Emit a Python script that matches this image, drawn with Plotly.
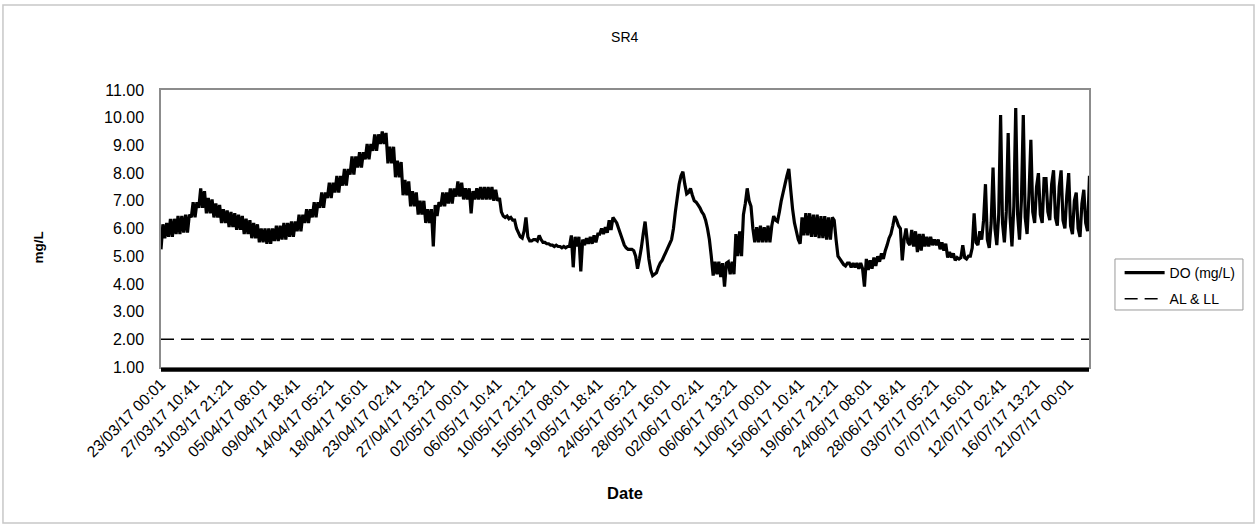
import plotly.graph_objects as go
import pandas as pd

# DO readings (mg/L), one value every 6 hours starting 23/03/17 00:01
# (4 readings per day)
do_mar = [5.25, 6.15, 5.65, 6.2,  5.7, 6.35, 5.7, 6.35,  5.8, 6.45, 5.8, 6.45,
          5.85, 6.5, 5.85, 6.5,  6.4, 6.95, 6.4, 6.95,  6.75, 7.45, 6.75, 7.35,
          6.55, 7.1, 6.55, 7.05,  6.4, 6.9, 6.4, 6.85,  6.2, 6.7, 6.2, 6.65]
do_apr = [6.05, 6.6, 6.05, 6.55,  5.95, 6.5, 5.95, 6.45,  5.8, 6.35, 5.8, 6.3,
          5.65, 6.2, 5.65, 6.15,  5.5, 6.0, 5.5, 6.0,  5.45, 6.0, 5.45, 6.0,
          5.55, 6.1, 5.55, 6.1,  5.6, 6.2, 5.6, 6.2,  5.7, 6.25, 5.7, 6.25,
          5.9, 6.5, 5.9, 6.5,  6.2, 6.7, 6.2, 6.7,  6.4, 6.95, 6.4, 6.95,
          6.75, 7.3, 6.75, 7.3,  7.1, 7.65, 7.1, 7.65,  7.3, 7.9, 7.3, 7.9,
          7.55, 8.15, 7.55, 8.15,  7.95, 8.6, 7.95, 8.6,  8.2, 8.75, 8.2, 8.75,
          8.5, 9.05, 8.5, 9.05,  8.8, 9.4, 8.8, 9.4,  9.05, 9.5, 9.05, 9.45,
          8.35, 8.95, 8.35, 8.95,  7.85, 8.45, 7.85, 8.4,  7.2, 7.75, 7.2, 7.7,
          6.8, 7.35, 6.8, 7.3,  6.5, 7.0, 6.5, 7.0,  6.2, 6.7, 6.2, 6.7,
          5.35, 6.85, 6.45, 6.95,  6.8, 7.3, 6.8, 7.3,  6.9, 7.45, 6.9, 7.45]
do_may = [7.15, 7.7, 7.15, 7.65,  7.05, 7.45, 7.05, 7.45,  6.55, 7.35, 7.05, 7.45,
          7.05, 7.5, 7.05, 7.5,  7.05, 7.5, 7.05, 7.5,  7.0, 7.4, 7.0, 7.1,
          6.6, 6.45, 6.4, 6.45,  6.35, 6.4, 6.3, 6.3,  6.0, 5.85, 5.7, 5.65,
          5.9, 6.4, 5.7, 5.55,  5.55, 5.6, 5.6, 5.55,  5.75, 5.6, 5.5, 5.5,
          5.45, 5.45, 5.4, 5.4,  5.35, 5.4, 5.35, 5.35,  5.3, 5.35, 5.3, 5.35,
          5.35, 5.75, 4.6, 5.7,  5.35, 5.7, 4.45, 5.6,  5.4, 5.65, 5.45, 5.7,
          5.45, 5.75, 5.5, 5.8,  5.8, 6.0, 5.8, 6.05,  5.85, 6.3, 5.95, 6.4,
          6.3, 6.2, 6.0, 5.8,  5.6, 5.4, 5.3, 5.25,  5.25, 5.25, 5.2, 5.0,
          4.55, 4.9, 5.3, 5.8,  6.25, 5.6, 4.9, 4.5,  4.3, 4.35, 4.4, 4.6,
          4.75, 4.85, 5.0, 5.15,  5.3, 5.45, 5.6, 6.0,  6.6, 7.1, 7.6, 7.9,
          8.05, 7.6, 7.25, 7.3]
do_jun = [7.45, 7.2, 7.0, 6.95,  6.85, 6.75, 6.6, 6.5,  6.3, 6.0, 5.6, 5.0,
          4.3, 4.8, 4.35, 4.8,  4.25, 4.75, 3.9, 4.75,  4.8, 4.35, 4.8, 4.35,
          5.8, 5.0, 5.9, 5.0,  6.5, 6.9, 7.45, 7.0,  6.8, 6.0, 5.5, 6.05,
          5.5, 6.1, 5.5, 6.05,  5.5, 6.1, 5.5, 6.1,  6.45, 6.3, 6.25, 6.6,
          7.0, 7.3, 7.6, 7.9,  8.15, 7.4, 6.7, 6.2,  5.9, 5.6, 5.45, 6.4,
          5.75, 6.55, 5.75, 6.55,  5.7, 6.5, 5.7, 6.5,  5.65, 6.45, 5.65, 6.45,
          5.6, 6.4, 5.6, 6.4,  6.3, 5.6, 5.0, 4.9,  4.8, 4.7, 4.65, 4.75,
          4.75, 4.6, 4.75, 4.6,  4.75, 4.55, 4.75, 4.55,  3.9, 4.9, 4.5, 4.85,
          4.55, 4.95, 4.65, 5.0,  4.8, 5.1, 4.9, 5.2,  5.4, 5.65, 5.8, 6.1,
          6.45, 6.3, 6.1, 6.0,  4.85, 5.6, 6.0, 5.5,  5.4, 5.95, 5.35, 5.9]
do_jul = [5.15, 5.8, 5.2, 5.8,  5.35, 5.7, 5.35, 5.7,  5.4, 5.6, 5.4, 5.6,
          5.25, 5.5, 5.2, 5.45,  4.95, 5.15, 4.95, 5.1,  4.85, 4.95, 4.9, 4.95,
          5.4, 4.95, 4.9, 5.0,  5.0, 5.3, 6.55, 5.5,  5.4, 5.9, 5.6, 6.3,
          7.6, 5.6, 5.3, 6.2,  8.2, 6.0, 5.4, 6.5,  10.1, 6.2, 5.5, 6.6,
          9.45, 6.4, 5.35, 6.8,  10.35, 6.5, 5.6, 7.0,  10.1, 6.4, 5.8, 7.2,
          9.2, 6.6, 6.2, 7.5,  8.0, 6.5, 6.2, 7.8,  7.8, 6.6, 6.3, 7.6,
          8.1, 6.4, 6.1, 7.5,  8.1, 6.3, 6.0, 7.2,  8.0, 6.1, 5.8, 7.0,
          7.3, 6.0, 5.7, 6.9,  7.4, 6.2, 5.9, 7.9]

al_ll = 2.0

tick_labels = ["23/03/17 00:01", "27/03/17 10:41", "31/03/17 21:21", "05/04/17 08:01",
               "09/04/17 18:41", "14/04/17 05:21", "18/04/17 16:01", "23/04/17 02:41",
               "27/04/17 13:21", "02/05/17 00:01", "06/05/17 10:41", "10/05/17 21:21",
               "15/05/17 08:01", "19/05/17 18:41", "24/05/17 05:21", "28/05/17 16:01",
               "02/06/17 02:41", "06/06/17 13:21", "11/06/17 00:01", "15/06/17 10:41",
               "19/06/17 21:21", "24/06/17 08:01", "28/06/17 18:41", "03/07/17 05:21",
               "07/07/17 16:01", "12/07/17 02:41", "16/07/17 13:21", "21/07/17 00:01"]

do_values = do_mar + do_apr + do_may + do_jun + do_jul
times = pd.date_range("2017-03-23 00:01", periods=len(do_values), freq="6h")
tick_vals = pd.to_datetime(tick_labels, format="%d/%m/%y %H:%M")
x_start = pd.Timestamp("2017-03-23 00:01")
x_end = pd.Timestamp("2017-07-23 16:30")

font = "Liberation Sans, Arial, sans-serif"

fig = go.Figure()
fig.add_trace(go.Scatter(
    x=times, y=do_values, mode="lines", name="DO (mg/L)",
    line=dict(color="black", width=3.2, simplify=False),
    legendgroup="do"
))
fig.add_trace(go.Scatter(
    x=[x_start, x_end], y=[al_ll, al_ll], mode="lines", name="AL & LL",
    line=dict(color="black", width=1.5, dash="13px,7px"),
    legendgroup="al"
))

# thick black band under the category axis
fig.add_shape(type="line", xref="x domain", yref="y domain",
              x0=0, x1=1, y0=-0.0097, y1=-0.0097,
              line=dict(color="black", width=4))
# outer chart frame
fig.add_shape(type="rect", xref="paper", yref="paper",
              x0=-0.1703, x1=1.1778, y0=-0.5632, y1=1.3069,
              line=dict(color="#c8c8c8", width=1.5))
# legend frame
fig.add_shape(type="rect", xref="paper", yref="paper",
              x0=1.0280, x1=1.1659, y0=0.2058, y1=0.3899,
              line=dict(color="#9a9a9a", width=1))

# y axis title, placed like the original (slightly below the plot centre)
fig.add_annotation(text="<b>mg/L</b>", xref="paper", yref="paper",
                   x=-0.142, y=0.43, textangle=-90, showarrow=False,
                   font=dict(size=13.5))

fig.update_layout(
    width=1257, height=529,
    paper_bgcolor="white", plot_bgcolor="white",
    margin=dict(l=161, r=168, t=90, b=162),
    font=dict(family=font, color="black"),
    title=dict(text="SR4", x=0.497, xanchor="center", y=0.93, yanchor="middle",
               font=dict(size=14)),
    showlegend=True,
    legend=dict(x=1.033, y=0.397, xanchor="left", yanchor="top",
                borderwidth=0, font=dict(size=14), itemwidth=40,
                bgcolor="rgba(0,0,0,0)", traceorder="grouped", tracegroupgap=5),
    xaxis=dict(
        type="date", range=[x_start, x_end],
        tickvals=tick_vals, ticktext=tick_labels, tickangle=-45,
        tickfont=dict(size=15.5), showgrid=False, zeroline=False,
        showline=True, linecolor="#8c8c8c", linewidth=1.5, mirror=True,
        ticks="",
        title=dict(text="<b>Date</b>", font=dict(size=16.5), standoff=28),
    ),
    yaxis=dict(
        range=[1, 11], dtick=1, tickformat=".2f", tickfont=dict(size=16),
        showgrid=False, zeroline=False,
        showline=True, linecolor="#8c8c8c", linewidth=1.5, mirror=True,
        ticks="", ticklabelstandoff=12,
    ),
)

fig.write_html("out.html", config={"displayModeBar": False},
               post_script="document.body.style.margin='0';")
